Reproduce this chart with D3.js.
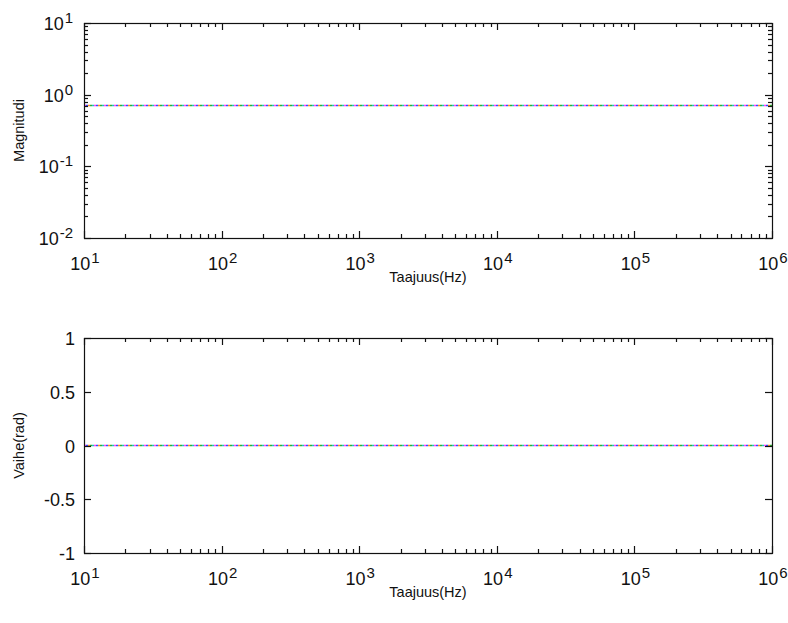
<!DOCTYPE html>
<html>
<head>
<meta charset="utf-8">
<script src="https://cdn.jsdelivr.net/npm/d3@7"></script>
<style>
	body { margin: 0; background: #fff; }
	svg { font-family: "Liberation Sans", Arial, sans-serif; }
	.tick-label { font-size: 18px; fill: #111; }
	.axis-label { font-size: 14.5px; fill: #111; }
</style>
</head>
<body>
<svg id="chart" width="788" height="623"></svg>
<script>
// frequency points (Hz)
var freqs = [10, 100, 1000, 10000, 100000, 1000000];

// magnitude of each overlapping response
var mag1 = [0.707, 0.707, 0.707, 0.707, 0.707, 0.707];
var mag2 = [0.707, 0.707, 0.707, 0.707, 0.707, 0.707];
var mag3 = [0.707, 0.707, 0.707, 0.707, 0.707, 0.707];
var mag4 = [0.707, 0.707, 0.707, 0.707, 0.707, 0.707];
var mag5 = [0.707, 0.707, 0.707, 0.707, 0.707, 0.707];

// phase of each response (rad)
var phase1 = [0, 0, 0, 0, 0, 0];
var phase2 = [0, 0, 0, 0, 0, 0];
var phase3 = [0, 0, 0, 0, 0, 0];
var phase4 = [0, 0, 0, 0, 0, 0];
var phase5 = [0, 0, 0, 0, 0, 0];

var seriesColours = ["#ff40ff", "#3050ff", "#ff9020", "#30b030", "#20c0c0"];

var xTicks = [1, 2, 3, 4, 5, 6];          // exponents of 10
var magTicks = [-2, -1, 0, 1];            // exponents of 10
var phaseTicks = [-1, -0.5, 0, 0.5, 1];

var svg = d3.select("#chart");

var left = 84, right = 772;
var magTop = 23, magBottom = 238;
var phTop = 338, phBottom = 553;

var x = d3.scaleLog().domain([10, 1e6]).range([left, right]);
var yMag = d3.scaleLog().domain([0.01, 10]).range([magBottom, magTop]);
var yPhase = d3.scaleLinear().domain([-1, 1]).range([phBottom, phTop]);

var line = function(yScale) {
	return d3.line()
		.x(d => x(d[0]))
		.y(d => yScale(d[1]));
};

// minor log ticks between decades
function minorLogTicks(lo, hi) {
	var out = [];
	for (var e = lo; e < hi; e++) {
		for (var m = 2; m <= 9; m++) out.push(m * Math.pow(10, e));
	}
	return out;
}

function drawFrame(g, top, bottom) {
	var majorLen = 7, minorLen = 4;

	// x ticks, top and bottom, pointing in
	xTicks.forEach(function(e) {
		var px = Math.round(x(Math.pow(10, e))) + 0.5;
		g.append("line").attr("x1", px).attr("x2", px)
			.attr("y1", bottom).attr("y2", bottom - majorLen);
		g.append("line").attr("x1", px).attr("x2", px)
			.attr("y1", top).attr("y2", top + majorLen);
	});
	minorLogTicks(1, 6).forEach(function(v) {
		var px = Math.round(x(v)) + 0.5;
		g.append("line").attr("x1", px).attr("x2", px)
			.attr("y1", bottom).attr("y2", bottom - minorLen);
		g.append("line").attr("x1", px).attr("x2", px)
			.attr("y1", top).attr("y2", top + minorLen);
	});

	g.append("rect")
		.attr("x", left + 0.5)
		.attr("y", top + 0.5)
		.attr("width", right - left)
		.attr("height", bottom - top)
		.attr("fill", "none");
}

function styleFrame(g) {
	g.selectAll("line, rect")
		.attr("stroke", "#111")
		.attr("stroke-width", 1.2);
}

function powerLabel(g, e, px, py, anchor) {
	var t = g.append("text")
		.attr("class", "tick-label")
		.attr("x", px)
		.attr("y", py)
		.attr("text-anchor", anchor);
	t.append("tspan").text("10");
	t.append("tspan").attr("dx", 1).attr("dy", -7).attr("font-size", 15).text(e);
	return t;
}

function drawXLabels(g, bottom) {
	xTicks.forEach(function(e) {
		powerLabel(g, e, x(Math.pow(10, e)) + 1, bottom + 32, "middle");
	});
	g.append("text")
		.attr("class", "axis-label")
		.attr("x", (left + right) / 2)
		.attr("y", bottom + 44)
		.attr("text-anchor", "middle")
		.text("Taajuus(Hz)");
}

// overlapping dotted responses, offset so every colour shows
function drawSeries(g, yScale, list) {
	list.forEach(function(vals, i) {
		g.append("path")
			.datum(freqs.map((f, j) => [f, vals[j]]))
			.attr("d", line(yScale))
			.attr("fill", "none")
			.attr("stroke", seriesColours[i])
			.attr("stroke-width", 1.4)
			.attr("stroke-dasharray", "2,8")
			.attr("stroke-dashoffset", -2 * i);
	});
}

// MAGNITUDE -------------------------------------------

var gMag = svg.append("g");
drawSeries(gMag, yMag, [mag1, mag2, mag3, mag4, mag5]);

var magFrame = gMag.append("g");
drawFrame(magFrame, magTop, magBottom);

// y ticks (log, with minors) on both sides
magTicks.forEach(function(e) {
	var py = Math.round(yMag(Math.pow(10, e))) + 0.5;
	magFrame.append("line").attr("x1", left).attr("x2", left + 7).attr("y1", py).attr("y2", py);
	magFrame.append("line").attr("x1", right).attr("x2", right - 7).attr("y1", py).attr("y2", py);
});
minorLogTicks(-2, 1).forEach(function(v) {
	var py = Math.round(yMag(v)) + 0.5;
	magFrame.append("line").attr("x1", left).attr("x2", left + 4).attr("y1", py).attr("y2", py);
	magFrame.append("line").attr("x1", right).attr("x2", right - 4).attr("y1", py).attr("y2", py);
});
styleFrame(magFrame);

magTicks.forEach(function(e) {
	powerLabel(gMag, e, left - 11, yMag(Math.pow(10, e)) + 7, "end");
});

drawXLabels(gMag, magBottom);

gMag.append("text")
	.attr("class", "axis-label")
	.attr("transform", "translate(24," + (magTop + magBottom) / 2 + ") rotate(-90)")
	.attr("text-anchor", "middle")
	.text("Magnitudi");

// PHASE -----------------------------------------------

var gPh = svg.append("g");
drawSeries(gPh, yPhase, [phase1, phase2, phase3, phase4, phase5]);

var phFrame = gPh.append("g");
drawFrame(phFrame, phTop, phBottom);

phaseTicks.forEach(function(v) {
	var py = Math.round(yPhase(v)) + 0.5;
	phFrame.append("line").attr("x1", left).attr("x2", left + 7).attr("y1", py).attr("y2", py);
	phFrame.append("line").attr("x1", right).attr("x2", right - 7).attr("y1", py).attr("y2", py);
});
styleFrame(phFrame);

phaseTicks.forEach(function(v) {
	gPh.append("text")
		.attr("class", "tick-label")
		.attr("x", left - 9)
		.attr("y", yPhase(v) + 7)
		.attr("text-anchor", "end")
		.text(String(v));
});

drawXLabels(gPh, phBottom);

gPh.append("text")
	.attr("class", "axis-label")
	.attr("transform", "translate(24," + (phTop + phBottom) / 2 + ") rotate(-90)")
	.attr("text-anchor", "middle")
	.text("Vaihe(rad)");
</script>
</body>
</html>
